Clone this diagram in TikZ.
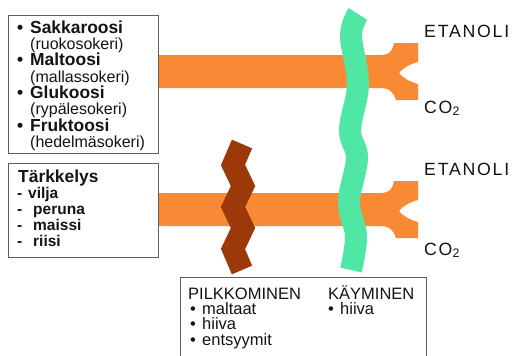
\documentclass[tikz,border=0pt]{standalone}
\usepackage{fontspec}
\setmainfont{Liberation Sans}
\definecolor{fermOrange}{HTML}{F98A35}
\definecolor{fermGreen}{HTML}{50E6A4}
\definecolor{fermBrown}{HTML}{9C390B}
\definecolor{fermFrame}{HTML}{5F5F5F}
\definecolor{fermInk}{HTML}{141414}
\tikzset{
  ferm box/.style={draw=fermFrame, line width=1.3pt, fill=white, inner sep=0pt},
  ferm flow/.style={fill=fermOrange},
  ferm wave/.style={draw=fermGreen, line width=22pt},
  ferm zigzag/.style={draw=fermBrown, line width=22pt, line join=miter},
  ferm head/.style={anchor=base west, inner sep=0pt, text=fermInk, font=\fontsize{17.4}{17.4}\selectfont\bfseries},
  ferm note/.style={anchor=base west, inner sep=0pt, text=fermInk, font=\fontsize{16}{16}\selectfont},
  ferm item/.style={anchor=base west, inner sep=0pt, text=fermInk, font=\fontsize{15.5}{15.5}\selectfont\bfseries},
  ferm stage/.style={anchor=base west, inner sep=0pt, text=fermInk, font=\fontsize{16.5}{16.5}\selectfont},
  ferm product/.style={anchor=base west, inner sep=0pt, text=fermInk, font=\fontsize{17.7}{17.7}\selectfont\addfontfeatures{LetterSpace=10}},
}

\begin{document}
\begin{tikzpicture}[x=1pt,y=-1pt]
  \clip (0,0) rectangle (517,356);
  \fill[white] (0,0) rectangle (517,356);
  % split arrows and products
  \foreach \dy/\ety/\coy [count=\i] in {0/37.7/113, 138/175.5/255} {
    \fill[ferm flow] (158,55+\dy) -- (380,55+\dy) .. controls (390,55+\dy) and (393,50+\dy) .. (394,43+\dy)
      -- (418,43+\dy) -- (418,62+\dy) .. controls (410,64+\dy) and (403,68+\dy) .. (399,73+\dy)
      .. controls (403,78+\dy) and (410,82+\dy) .. (418,84+\dy) -- (418,100+\dy) -- (396,100+\dy)
      .. controls (394,93+\dy) and (390,88+\dy) .. (380,88+\dy) -- (158,88+\dy) -- cycle;
    \node[ferm product] (ethanol\i) at (424,\ety) {ETANOLI};
    \node[ferm product] (carbon\i) at (424,\coy) {CO\textsubscript{2}};
  }
  % boxes
  \node[ferm box, anchor=north west, minimum width=150pt, minimum height=138pt] (sugars) at (8,15) {};
  \node[ferm box, anchor=north west, minimum width=150pt, minimum height=94pt] (starch) at (8,163) {};
  \node[ferm box, anchor=north west, minimum width=246pt, minimum height=93pt] (agents) at (180,277) {};
  % fermentation and splitting
  \draw[ferm wave] plot[smooth, tension=0.6] coordinates {(358,14) (351,36) (358,84) (350,130) (357,158) (349,202) (356,236) (351,270)};
  \draw[ferm zigzag] (242,144) -- (233,165) -- (243,186) -- (233,207) -- (243,228) -- (233,249) -- (242,270);
  % sugars
  \foreach \sugar/\source [count=\i from 0] in {Sakkaroosi/ruokosokeri, Maltoosi/mallassokeri, Glukoosi/rypälesokeri, Fruktoosi/hedelmäsokeri} {
    \node[ferm head] (sugar\i) at (17,33+32.7*\i) {\makebox[13pt][l]{•}\sugar};
    \node[ferm note] (source\i) at (30,49.5+32.7*\i) {(\source)};
  }
  % starch
  \node[ferm head] (starch title) at (18,182.7) {Tärkkelys};
  \foreach \crop/\gap [count=\i from 0] in {vilja/11pt, peruna/16pt, maissi/16pt, riisi/16pt}
    \node[ferm item] (crop\i) at (17,198+16.3*\i) {\makebox[\gap][l]{-}\crop};
  % agents
  \node[ferm stage] (split) at (188,299) {PILKKOMINEN};
  \node[ferm stage] (ferment) at (328,299) {KÄYMINEN};
  \foreach \agent [count=\i from 0] in {maltaat, hiiva, entsyymit}
    \node[ferm stage] (splitter\i) at (190,314+15.5*\i) {\makebox[12pt][l]{•}\agent};
  \node[ferm stage] (yeast) at (328,314) {\makebox[12pt][l]{•}hiiva};
\end{tikzpicture}
\end{document}
